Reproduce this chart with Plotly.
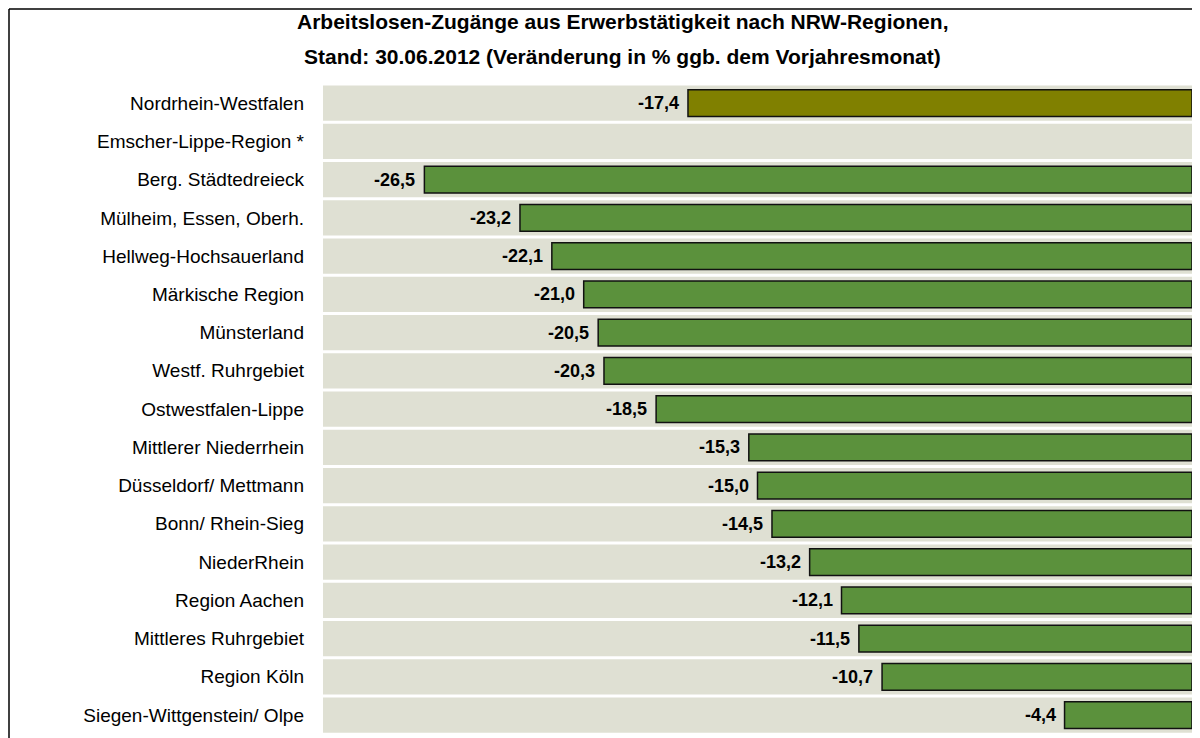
import plotly.graph_objects as go

regions = [
    "Nordrhein-Westfalen",
    "Emscher-Lippe-Region *",
    "Berg. Städtedreieck",
    "Mülheim, Essen, Oberh.",
    "Hellweg-Hochsauerland",
    "Märkische Region",
    "Münsterland",
    "Westf. Ruhrgebiet",
    "Ostwestfalen-Lippe",
    "Mittlerer Niederrhein",
    "Düsseldorf/ Mettmann",
    "Bonn/ Rhein-Sieg",
    "NiederRhein",
    "Region Aachen",
    "Mittleres Ruhrgebiet",
    "Region Köln",
    "Siegen-Wittgenstein/ Olpe",
]
change_pct = [-17.4, None, -26.5, -23.2, -22.1, -21.0, -20.5, -20.3, -18.5,
              -15.3, -15.0, -14.5, -13.2, -12.1, -11.5, -10.7, -4.4]
axis_min = -30

title_line1 = "Arbeitslosen-Zugänge aus Erwerbstätigkeit nach NRW-Regionen,"
title_line2 = "Stand: 30.06.2012 (Veränderung in % ggb. dem Vorjahresmonat)"

# page body has an 8px margin; the figure is sized/positioned to compensate
OFF = 8
W, H = 1200 - OFF, 738 - OFF
ML, MR, MT, MB = 323 - OFF, 8, 84 - OFF, 0
pw, ph = W - ML - MR, H - MT - MB

def px_x(p):
    return (p - OFF - ML) / pw

def px_y(p):
    return 1 - (p - OFF - MT) / ph

FONT = "Liberation Sans, Arial, sans-serif"
bar_colors = ["#808000"] + ["#5B913C"] * (len(regions) - 1)

fig = go.Figure()
# background stripes
fig.add_trace(go.Bar(
    y=regions, x=[axis_min] * len(regions), orientation="h",
    width=0.92, marker=dict(color="#DFE0D3", line=dict(width=0)),
    hoverinfo="skip", showlegend=False,
))
fig.add_trace(go.Bar(
    y=regions, x=change_pct, orientation="h", width=0.7,
    marker=dict(color=bar_colors, line=dict(color="#111111", width=1.5)),
    showlegend=False,
))

for r, v in zip(regions, change_pct):
    if v is None:
        continue
    fig.add_annotation(
        x=v, y=r, xref="x", yref="y", text=f"<b>{v:.1f}</b>".replace(".", ","),
        showarrow=False, xanchor="right", yanchor="middle", xshift=-7,
        font=dict(family=FONT, size=18, color="#000000"),
    )

fig.add_annotation(x=px_x(622), y=px_y(22), xref="paper", yref="paper",
                   text=f"<b>{title_line1}</b>", showarrow=False,
                   xanchor="center", yanchor="middle",
                   font=dict(family=FONT, size=21, color="#000000"))
fig.add_annotation(x=px_x(622), y=px_y(57), xref="paper", yref="paper",
                   text=f"<b>{title_line2}</b>", showarrow=False,
                   xanchor="center", yanchor="middle",
                   font=dict(family=FONT, size=21, color="#000000"))

# outer frame (left and top edges visible)
fx, fy = 9, 9
fig.add_shape(type="line", xref="paper", yref="paper",
              x0=px_x(fx), x1=px_x(1200), y0=px_y(fy), y1=px_y(fy),
              line=dict(color="#000000", width=1.5))
fig.add_shape(type="line", xref="paper", yref="paper",
              x0=px_x(fx), x1=px_x(fx), y0=px_y(fy), y1=px_y(738),
              line=dict(color="#000000", width=1.5))

fig.update_layout(
    width=W, height=H, barmode="overlay",
    margin=dict(l=ML, r=MR, t=MT, b=MB),
    paper_bgcolor="white", plot_bgcolor="white",
    xaxis=dict(range=[axis_min, 0], visible=False, fixedrange=True),
    yaxis=dict(categoryorder="array", categoryarray=regions,
               range=[len(regions) - 0.5 + 0.1, -0.5],
               showgrid=False, zeroline=False,
               showline=False, ticks="", ticklabelstandoff=18,
               tickfont=dict(family=FONT, size=19, color="#000000")),
    font=dict(family=FONT),
)

fig.write_html("out.html")
